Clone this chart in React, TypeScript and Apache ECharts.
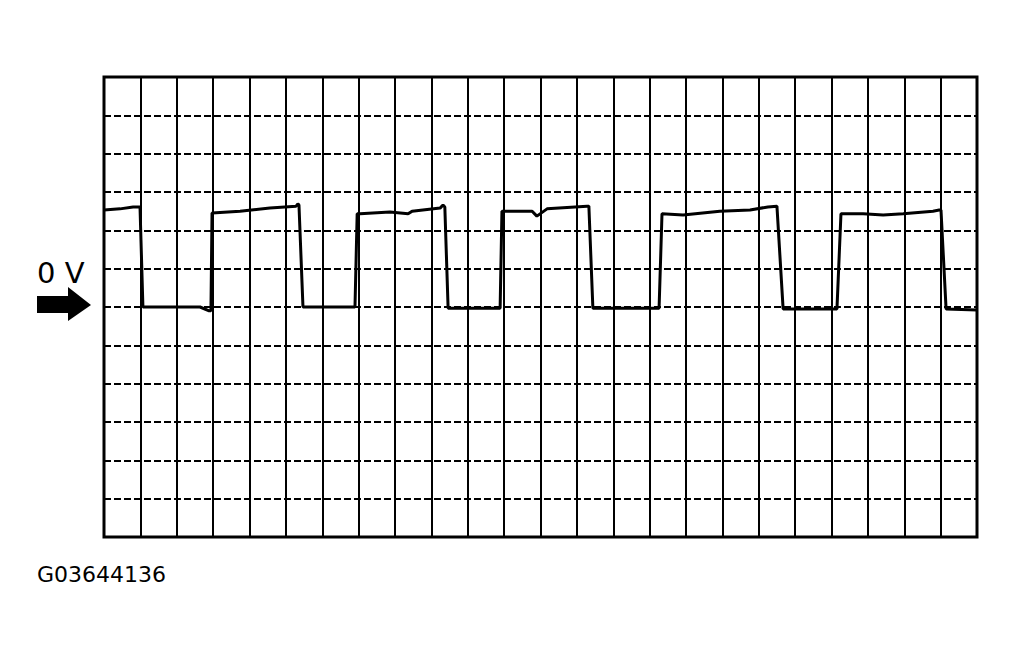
import React, { useEffect, useRef } from "react";
import * as echarts from "echarts";

// Time in divisions (24 horizontal divisions)
const timeDiv: number[] = [
  0, 0.44, 0.8, 0.96, 0.99, 1.07, 2.64, 2.89, 2.94, 2.97, 3.74, 4.56, 5.28, 5.33, 5.36, 5.47,
  6.9, 6.96, 7.04, 7.86, 8.36, 8.47, 9.24, 9.32, 9.37, 9.46,
  10.89, 10.94, 11.77, 11.9, 12.18, 13.28, 13.33, 13.44,
  15.26, 15.34, 15.92, 16.93, 17.76, 18.25, 18.5, 18.67,
  20.15, 20.26, 20.87, 21.42, 21.97, 22.79, 22.96, 23.01, 23.15, 24,
];
// Voltage in divisions (0 V at 0)
const voltDiv: number[] = [
  2.53, 2.56, 2.61, 2.61, 2.61, 0, 0, -0.1, -0.1, 2.45, 2.5, 2.58, 2.63, 2.69, 2.66, 0,
  0, 2.43, 2.43, 2.48, 2.43, 2.5, 2.58, 2.66, 2.61, -0.03,
  -0.03, 2.5, 2.5, 2.37, 2.56, 2.63, 2.63, -0.03,
  -0.03, 2.43, 2.4, 2.5, 2.53, 2.61, 2.63, -0.05,
  -0.05, 2.43, 2.43, 2.4, 2.43, 2.5, 2.53, 2.53, -0.05, -0.08,
];

const zeroLabel = "0 V";
const figureId = "G03644136";

export default function App() {
  const ref = useRef<HTMLDivElement>(null);
  useEffect(() => {
    if (!ref.current) return;
    const chart = echarts.init(ref.current, undefined, { renderer: "svg" });
    const data = timeDiv.map((t, i) => [t, voltDiv[i]]);
    chart.setOption({
      animation: false,
      backgroundColor: "#ffffff",
      grid: {
        left: 104,
        top: 77,
        width: 873,
        height: 460,
        show: true,
        borderColor: "#000",
        borderWidth: 3,
        backgroundColor: "transparent",
        z: 3,
      },
      xAxis: {
        type: "value",
        min: 0,
        max: 24,
        interval: 1,
        axisLine: { show: false },
        axisTick: { show: false },
        axisLabel: { show: false },
        splitLine: { show: true, lineStyle: { color: "#000", width: 2, type: "solid" } },
      },
      yAxis: {
        type: "value",
        min: -6,
        max: 6,
        interval: 1,
        axisLine: { show: false },
        axisTick: { show: false },
        axisLabel: { show: false },
        splitLine: { show: true, lineStyle: { color: "#000", width: 2, type: [7, 3] } },
      },
      series: [
        {
          type: "line",
          data,
          symbol: "none",
          lineStyle: { color: "#000", width: 3 },
          z: 5,
        },
      ],
      graphic: [
        {
          type: "text",
          left: 37,
          top: 258,
          style: {
            text: zeroLabel,
            font: "29px 'DejaVu Sans'",
            fill: "#000",
          },
        },
        {
          type: "polygon",
          shape: {
            points: [
              [37, 296],
              [68, 296],
              [68, 287],
              [91, 305],
              [68, 321],
              [68, 313],
              [37, 313],
            ],
          },
          style: { fill: "#000" },
        },
        {
          type: "text",
          left: 37,
          top: 563,
          style: {
            text: figureId,
            font: "22px 'DejaVu Sans'",
            fill: "#000",
          },
        },
      ],
    });
    return () => chart.dispose();
  }, []);
  return (
    <div
      ref={ref}
      style={{ position: "absolute", left: 0, top: 0, width: 1018, height: 658 }}
    />
  );
}
